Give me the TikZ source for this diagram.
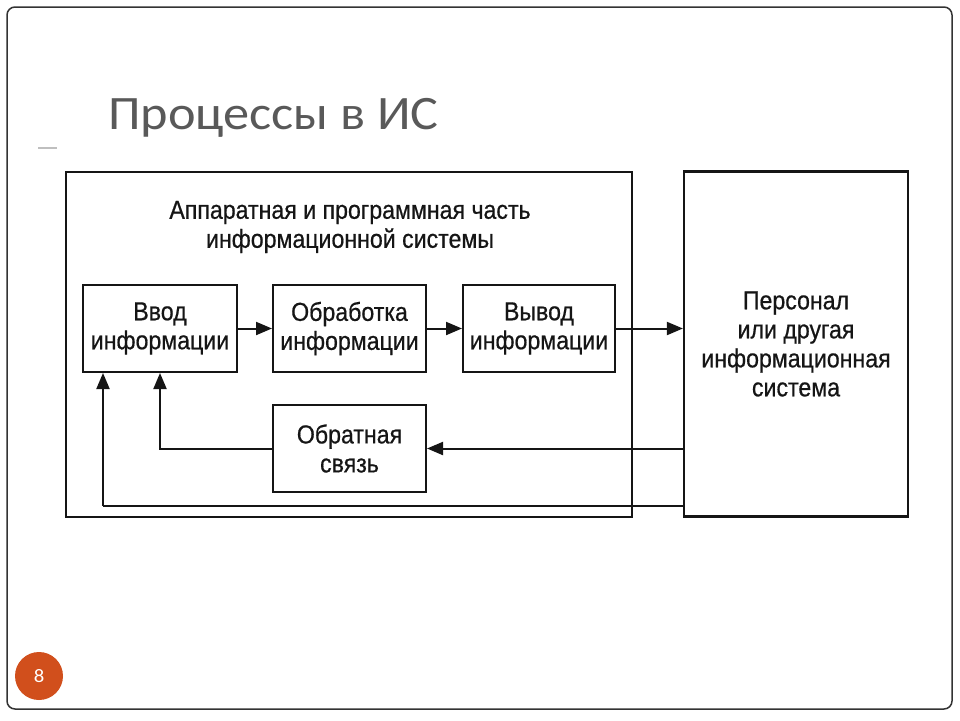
\documentclass[tikz,border=0pt]{standalone}
\usepackage{fontspec}
\usetikzlibrary{arrows.meta}
\setmainfont{Liberation Sans}
\newfontfamily\slidefont[FakeStretch=1.09]{Carlito}
\newfontfamily\boxfont[FakeStretch=0.89, FakeBold=0.6]{Liberation Sans}

\definecolor{titlegray}{HTML}{595959}
\definecolor{pagecol}{HTML}{D14F1C}
\definecolor{inkcol}{HTML}{151515}

\tikzset{
    frame/.style={draw=inkcol, line width=2.2pt, align=center, inner sep=0pt,
        font=\boxfont\fontsize{26}{29}\selectfont, text=inkcol},
    box/.style={frame, line width=2pt, minimum width=153pt, minimum height=87pt},
    link/.style={-{Triangle[length=16pt,width=13pt]}, draw=inkcol, line width=2pt},
    loopline/.style={draw=inkcol, line width=2pt}
}

\begin{document}
\begin{tikzpicture}[x=1pt, y=-1pt]
    \useasboundingbox (0,0) rectangle (960,720);
    % slide
    \draw[rounded corners=8pt, line width=1.5pt, draw=black!80] (7,7) rectangle (952,709);
    \node[anchor=base west, inner sep=0pt, text=titlegray,
        font=\slidefont\fontsize{48}{56}\selectfont] (title) at (108,129) {Процессы в ИС};
    \draw[black!25, line width=1.2pt] (38,148) -- (57,148);
    \node[circle, fill=pagecol, minimum size=48pt, inner sep=0pt, text=white,
        font=\slidefont\fontsize{19}{22}\selectfont] (pagenum) at (39,676) {8};

    % diagram
    \node[frame, minimum width=566pt, minimum height=345pt] (hw) at (349,344.5) {};
    \node[frame, draw=none] (hwlabel) at (350,227)
        {Аппаратная и программная часть\\информационной системы};
    \node[frame, minimum width=224pt, minimum height=345pt] (pers) at (796,344)
        {Персонал\\или другая\\информационная\\система};
    \node[box, minimum width=154pt] (input) at (160,328.5) {Ввод\\информации};
    \node[box] (process) at (349.5,328.5) {Обработка\\информации};
    \node[box, minimum width=152pt] (output) at (539,328.5) {Вывод\\информации};
    \node[box] (feedback) at (349.5,448.5) {Обратная\\связь};
    \coordinate (loop) at (103,506);

    \draw[link] (input) -- (process);
    \draw[link] (process) -- (output);
    \draw[link] (output.east) -- (output.east -| pers.west);
    \draw[link] (pers.west |- feedback.east) -- (feedback.east);
    \draw[link] (feedback.west) -| (input.south);
    \draw[loopline] (pers.west |- loop) -- (loop);
    \draw[link] (loop) -- (loop |- input.south);
\end{tikzpicture}
\end{document}
